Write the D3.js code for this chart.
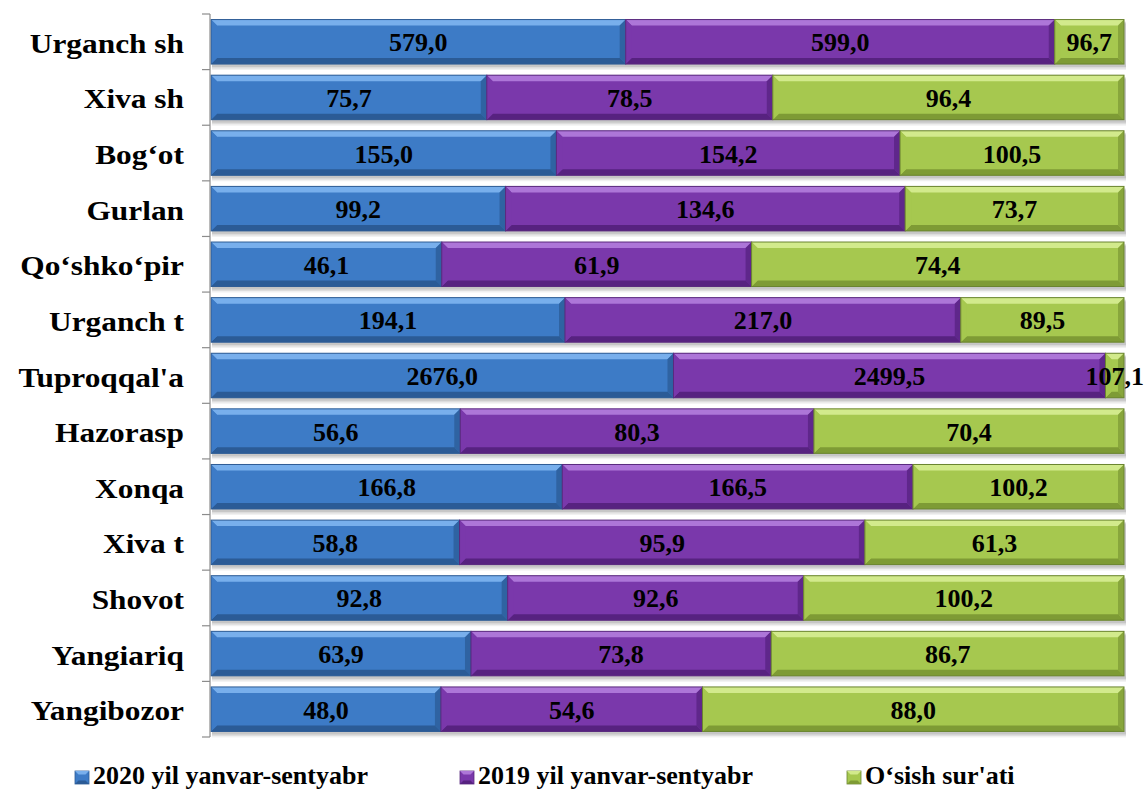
<!DOCTYPE html>
<html><head><meta charset="utf-8">
<script src="https://cdn.jsdelivr.net/npm/d3@7"></script>
</head><body style="margin:0">
<svg id="c" width="1145" height="789"></svg>
<script>
const categories = ["Urganch sh","Xiva sh","Bog‘ot","Gurlan","Qo‘shko‘pir","Urganch t","Tuproqqal'a","Hazorasp","Xonqa","Xiva t","Shovot","Yangiariq","Yangibozor"];
const s2020 = [579.0,75.7,155.0,99.2,46.1,194.1,2676.0,56.6,166.8,58.8,92.8,63.9,48.0];
const s2019 = [599.0,78.5,154.2,134.6,61.9,217.0,2499.5,80.3,166.5,95.9,92.6,73.8,54.6];
const growth = [96.7,96.4,100.5,73.7,74.4,89.5,107.1,70.4,100.2,61.3,100.2,86.7,88.0];
const seriesNames = ["2020 yil yanvar-sentyabr","2019 yil yanvar-sentyabr","O‘sish sur'ati"];
const seriesData = [s2020, s2019, growth];
const colors = [
  {base:"#3d7bc6", light:"#78afec", dark:"#2b5b96", edge:"#2f5d95"},
  {base:"#7a38ab", light:"#ad76d8", dark:"#572280", edge:"#5a2a7e"},
  {base:"#a6c84f", light:"#d2ea8c", dark:"#7e9b35", edge:"#6a8430"}
];
const FONT = '"Liberation Serif"';

const svg = d3.select("#c");

const x0 = 211, x1 = 1124, yTop = 14, yBot = 737;
const y = d3.scaleBand().domain(categories).range([yTop,yBot]).paddingInner(0.2).paddingOuter(0.1);
const x = d3.scaleLinear().domain([0,1]).range([x0,x1]);

const rows = categories.map((c,i)=>{
  const vals = seriesData.map(s=>s[i]);
  const tot = d3.sum(vals);
  let acc = 0;
  return vals.map((v,k)=>{const a=acc/tot; acc+=v; return {cat:c,k,v,a,b:acc/tot};});
});

const fmt = v => d3.format(".1f")(v).replace(".",",");
const bev = 6;
// soft shadows without filters
categories.forEach(c=>{
  [[4,0.06],[3,0.08],[2,0.1]].forEach(([o,op])=>{
    svg.append("rect").attr("x",x0+1).attr("y",y(c)+o).attr("width",x1-x0+1).attr("height",y.bandwidth()+o/2)
      .attr("fill","#000").attr("opacity",op);
  });
});
rows.forEach(r=>{
  r.forEach(d=>{
    const xa = x(d.a), xb = x(d.b), yy = y(d.cat), h = y.bandwidth();
    const w = xb-xa, c = colors[d.k];
    const b = Math.min(bev, w/2);
    svg.append("rect").attr("x",xa).attr("y",yy).attr("width",w).attr("height",h).attr("fill",c.base);
    svg.append("polygon").attr("points",[[xa,yy],[xb,yy],[xb-b,yy+b],[xa+b,yy+b]].join(" ")).attr("fill",c.light);
    svg.append("polygon").attr("points",[[xa,yy+h],[xb,yy+h],[xb-b,yy+h-b],[xa+b,yy+h-b]].join(" ")).attr("fill",c.dark);
    svg.append("polygon").attr("points",[[xa,yy],[xa+b,yy+b],[xa+b,yy+h-b],[xa,yy+h]].join(" ")).attr("fill",c.base).attr("opacity",0.9);
    svg.append("polygon").attr("points",[[xb,yy],[xb-b,yy+b],[xb-b,yy+h-b],[xb,yy+h]].join(" ")).attr("fill",c.dark).attr("opacity",0.75);
    svg.append("rect").attr("x",xa).attr("y",yy).attr("width",w).attr("height",h).attr("fill","none").attr("stroke",c.edge).attr("stroke-width",1);
  });
});
rows.forEach(r=>r.forEach(d=>{
  svg.append("text").attr("x",(x(d.a)+x(d.b))/2).attr("y",y(d.cat)+y.bandwidth()/2+9.5)
   .attr("text-anchor","middle").attr("fill","#000")
   .style("font-family",FONT).style("font-weight","bold").style("font-size","26px").text(fmt(d.v));
}));

svg.append("line").attr("x1",x0-1).attr("x2",x0-1).attr("y1",yTop).attr("y2",yBot).attr("stroke","#8c8c8c").attr("stroke-width",1.2);
d3.range(categories.length+1).forEach(i=>{
  const ty = yTop + i*(yBot-yTop)/categories.length;
  svg.append("line").attr("x1",x0-9).attr("x2",x0-1).attr("y1",ty).attr("y2",ty).attr("stroke","#8c8c8c").attr("stroke-width",1.2);
});
categories.forEach(c=>{
  svg.append("text").attr("transform",`translate(184,${y(c)+y.bandwidth()/2+11}) scale(1.12,1)`).attr("text-anchor","end")
    .style("font-family",FONT).style("font-weight","bold").style("font-size","28px").text(c);
});

const legSq = [75, 460, 847];
seriesNames.forEach((n,k)=>{
  const c = colors[k];
  const sx = legSq[k], sy = 784;
  svg.append("rect").attr("x",sx).attr("y",sy-13).attr("width",14).attr("height",13).attr("fill",c.base).attr("stroke",c.edge).attr("stroke-width",0.8);
  svg.append("polygon").attr("points",[[sx,sy-13],[sx+14,sy-13],[sx+10.5,sy-9.5],[sx+3.5,sy-9.5]].join(" ")).attr("fill",c.light);
  svg.append("polygon").attr("points",[[sx,sy],[sx+14,sy],[sx+10.5,sy-3.5],[sx+3.5,sy-3.5]].join(" ")).attr("fill",c.dark);
  svg.append("text").attr("x",sx+18).attr("y",sy)
    .style("font-family",FONT).style("font-weight","bold").style("font-size","26px").text(n);
});
</script>
</body></html>
